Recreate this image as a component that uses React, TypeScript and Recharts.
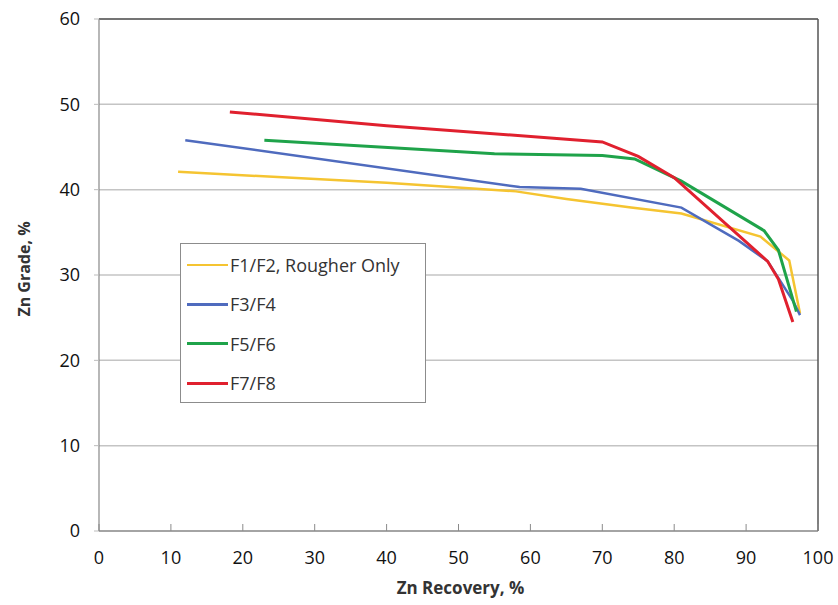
import React from 'react';
import { LineChart, Line, XAxis, YAxis, CartesianGrid, Legend, ReferenceLine, Label } from 'recharts';

const xTicks = [0, 10, 20, 30, 40, 50, 60, 70, 80, 90, 100];
const yTicks = [0, 10, 20, 30, 40, 50, 60];

const f1f2 = [
  { x: 11, y: 42.1 },
  { x: 40, y: 40.8 },
  { x: 58, y: 39.8 },
  { x: 65, y: 38.9 },
  { x: 74, y: 37.9 },
  { x: 81, y: 37.2 },
  { x: 92, y: 34.5 },
  { x: 96, y: 31.7 },
  { x: 97.5, y: 25.5 },
];
const f3f4 = [
  { x: 12, y: 45.8 },
  { x: 58.5, y: 40.3 },
  { x: 67, y: 40.1 },
  { x: 81, y: 37.9 },
  { x: 89, y: 34.0 },
  { x: 93, y: 31.6 },
  { x: 96.5, y: 27.0 },
  { x: 97.5, y: 25.3 },
];
const f5f6 = [
  { x: 23, y: 45.8 },
  { x: 55, y: 44.2 },
  { x: 70, y: 44.0 },
  { x: 74.5, y: 43.6 },
  { x: 81, y: 41.0 },
  { x: 92.5, y: 35.2 },
  { x: 94.5, y: 32.9 },
  { x: 97, y: 25.7 },
];
const f7f8 = [
  { x: 18.2, y: 49.1 },
  { x: 40, y: 47.5 },
  { x: 70, y: 45.6 },
  { x: 75, y: 43.9 },
  { x: 80, y: 41.4 },
  { x: 93, y: 31.6 },
  { x: 94.5, y: 29.5 },
  { x: 96.5, y: 24.5 },
];

const seriesNames = ['F1/F2, Rougher Only', 'F3/F4', 'F5/F6', 'F7/F8'];
const seriesColors = ['#F5C431', '#4F6BBE', '#1FA34A', '#E0202E'];
const seriesWidths = [2.5, 2.5, 3, 3];
const seriesData = [f1f2, f3f4, f5f6, f7f8];

const FONT = "'Open Sans', 'Noto Sans', sans-serif";

const XTick = (props: any) => {
  const { x, y, payload } = props;
  return (
    <g>
      <line x1={x} x2={x} y1={y} y2={y - 7} stroke="#8a8a8a" strokeWidth={1} />
      <text x={x} y={y + 33} textAnchor="middle" fontSize={18} fill="#111" fontFamily={FONT}>
        {payload.value}
      </text>
    </g>
  );
};

const LegendBox = () => (
  <div
    style={{
      width: 246,
      height: 160,
      border: '1.5px solid #8c8c8c',
      background: '#fff',
      boxSizing: 'border-box',
      paddingTop: 1,
      fontFamily: FONT,
    }}
  >
    {seriesNames.map((n, i) => (
      <div key={n} style={{ display: 'flex', alignItems: 'center', height: 39.5 }}>
        <div style={{ width: 41, height: seriesWidths[i], background: seriesColors[i], marginLeft: 6 }} />
        <span style={{ fontSize: 18, color: '#333', marginLeft: 2, whiteSpace: 'nowrap' }}>{n}</span>
      </div>
    ))}
  </div>
);

export default function App() {
  return (
    <div style={{ position: 'absolute', left: 0, top: 0, background: '#fff' }}>
      <LineChart width={838} height={605} margin={{ top: 19, right: 20, left: 39, bottom: 34 }}>
        <CartesianGrid vertical={false} stroke="#c4c4c4" strokeWidth={1.5} />
        <XAxis
          dataKey="x"
          type="number"
          domain={[0, 100]}
          ticks={xTicks}
          height={40}
          tickLine={false}
          tickSize={0}
          tickMargin={0}
          tick={<XTick />}
          axisLine={{ stroke: '#777', strokeWidth: 1.2 }}
          allowDuplicatedCategory={false}
        >
          <Label
            content={(p: any) => {
              const vb = p.viewBox || { x: 99, y: 531, width: 719 };
              return (
                <text
                  x={vb.x + vb.width / 2 + 2}
                  y={vb.y + 63}
                  textAnchor="middle"
                  fontSize={17}
                  fontWeight="bold"
                  fill="#333"
                  fontFamily={FONT}
                >
                  Zn Recovery, %
                </text>
              );
            }}
          />
        </XAxis>
        <YAxis
          type="number"
          domain={[0, 60]}
          ticks={yTicks}
          width={60}
          tickSize={5}
          tickMargin={14}
          tickLine={{ stroke: '#bbb' }}
          tick={{ fontSize: 18, fill: '#111', fontFamily: FONT }}
          axisLine={{ stroke: '#888', strokeWidth: 1.2 }}
        >
          <Label
            content={(p: any) => {
              const vb = p.viewBox || { x: 39, y: 19, height: 512 };
              const cx = vb.x - 15;
              const cy = vb.y + vb.height / 2 - 6;
              return (
                <text
                  transform={`translate(${cx}, ${cy}) rotate(-90)`}
                  textAnchor="middle"
                  dominantBaseline="central"
                  fontSize={16}
                  fontWeight="bold"
                  fill="#333"
                  fontFamily={FONT}
                >
                  Zn Grade, %
                </text>
              );
            }}
          />
        </YAxis>
        <ReferenceLine y={60} stroke="#555" strokeWidth={1.5} />
        <ReferenceLine x={100} stroke="#555" strokeWidth={1.5} />
        {seriesData.map((d, i) => (
          <Line
            key={seriesNames[i]}
            data={d}
            dataKey="y"
            name={seriesNames[i]}
            type="linear"
            stroke={seriesColors[i]}
            strokeWidth={seriesWidths[i]}
            dot={false}
            activeDot={false}
            isAnimationActive={false}
          />
        ))}
        <Legend
          layout="vertical"
          align="center"
          verticalAlign="middle"
          content={<LegendBox />}
          wrapperStyle={{ position: 'absolute', left: 180, top: 243, width: 246, height: 160 }}
        />
      </LineChart>
    </div>
  );
}
